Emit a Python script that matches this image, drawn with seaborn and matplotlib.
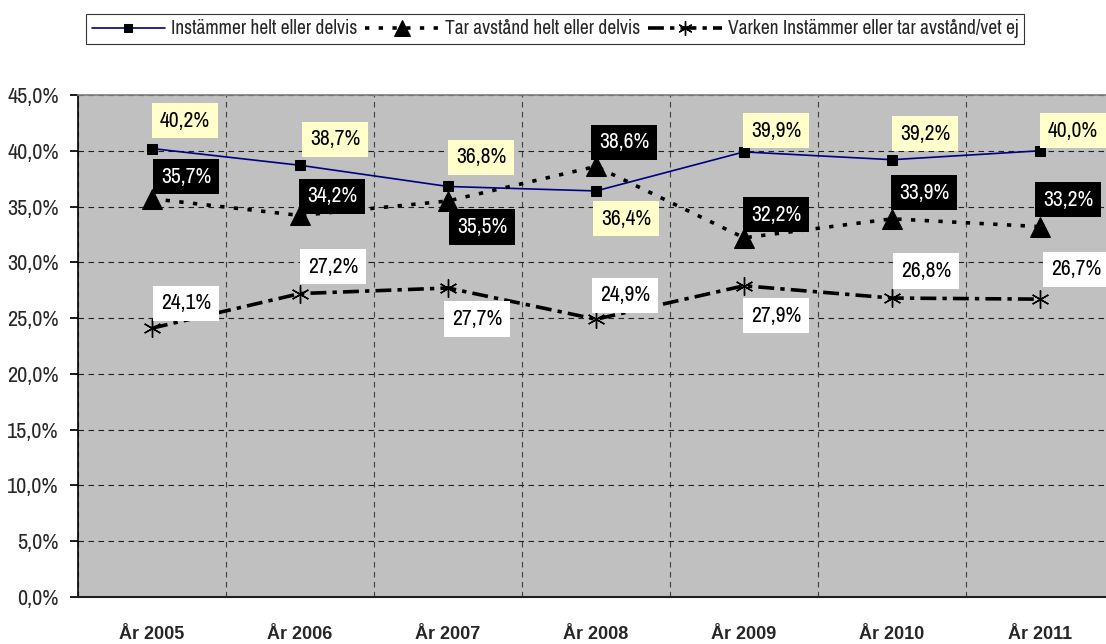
import matplotlib
matplotlib.use("Agg")
import matplotlib.pyplot as plt
from matplotlib import font_manager
from matplotlib.ticker import FuncFormatter, MultipleLocator, FixedLocator
import seaborn as sns
import pandas as pd

years = ["År 2005", "År 2006", "År 2007", "År 2008", "År 2009", "År 2010", "År 2011"]
instammer = [40.2, 38.7, 36.8, 36.4, 39.9, 39.2, 40.0]
tar_avstand = [35.7, 34.2, 35.5, 38.6, 32.2, 33.9, 33.2]
varken = [24.1, 27.2, 27.7, 24.9, 27.9, 26.8, 26.7]
series_names = ["Instämmer helt eller delvis", "Tar avstånd helt eller delvis",
                "Varken Instämmer eller tar avstånd/vet ej"]

sns.set_theme(style="white")
avail = {f.name for f in font_manager.fontManager.ttflist}
narrow = "Liberation Sans"
for cand in ["Liberation Sans Narrow", "Arial Narrow", "Archivo Narrow", "PT Sans Narrow",
             "Roboto Condensed", "IBM Plex Sans Condensed"]:
    if cand in avail:
        narrow = cand
        break
plt.rcParams["font.family"] = [narrow, "DejaVu Sans"]

fig = plt.figure(figsize=(11.06, 6.44), dpi=100)
ax = fig.add_axes([78 / 1106, 1 - 597 / 644, 1036 / 1106, (597 - 95) / 644])
ax.set_facecolor("#C0C0C0")

x = list(range(len(years)))
df = pd.DataFrame({"x": x, "a": instammer, "b": tar_avstand, "c": varken})

sns.lineplot(data=df, x="x", y="a", ax=ax, color="#000080", lw=1.2,
             marker="s", markersize=7, markerfacecolor="black", markeredgecolor="black",
             label=series_names[0], zorder=5)
sns.lineplot(data=df, x="x", y="b", ax=ax, color="black", lw=2.6, dashes=(1.2, 2.6),
             marker="^", markersize=14, markerfacecolor="black", markeredgecolor="black",
             label=series_names[1], zorder=5)
sns.lineplot(data=df, x="x", y="c", ax=ax, color="black", lw=2.6, dashes=(4.4, 1.7, 1.2, 1.7),
             marker=(6, 2, 0), markersize=13, markeredgewidth=1.0,
             markerfacecolor="black", markeredgecolor="black",
             label=series_names[2], zorder=5)

ax.set_xlim(-0.5, 6.5)
ax.set_ylim(0, 45)
ax.yaxis.set_major_locator(MultipleLocator(5))
ax.yaxis.set_major_formatter(FuncFormatter(lambda v, p: f"{v:.1f}%".replace(".", ",")))
ax.set_xticks(x)
ax.set_xticklabels(years, fontweight="bold", fontsize=13, family=["Liberation Sans", "DejaVu Sans"])
ax.xaxis.set_minor_locator(FixedLocator([i - 0.5 for i in range(len(years) + 1)]))
ax.tick_params(axis="x", which="major", length=0, pad=21)
ax.tick_params(axis="x", which="minor", length=7, color="#404040", direction="out", width=1)
ax.tick_params(axis="y", which="major", length=6, color="black", direction="out",
               labelsize=16, pad=8, left=True)
ax.set_xlabel("")
ax.set_ylabel("")

ax.grid(axis="y", which="major", color="#202020", linestyle=(0, (5, 4)), lw=0.8)
ax.grid(axis="x", which="minor", color="#404040", linestyle=(0, (5, 4)), lw=0.8)
ax.grid(axis="x", which="major", visible=False)

ax.spines["left"].set_color("black")
ax.spines["left"].set_linewidth(1.2)
ax.spines["bottom"].set_color("#202020")
ax.spines["bottom"].set_linewidth(1.5)
ax.spines["top"].set_color("#808080")
ax.spines["right"].set_visible(False)

fmt = lambda v: f"{v:.1f}%".replace(".", ",")

off_a = [(33, 28), (35, 26), (33, 29), (30, -28), (32, 21), (33, 26), (33, 20)]
off_b = [(34, 22), (32, 19), (34, -26), (28, 24), (32, 23), (32, 26), (28, 27)]
off_c = [(34, 25), (33, 27), (29, -31), (29, 24), (32, -30), (34, 27), (36, 30)]

lab_kw = dict(textcoords="offset pixels", ha="center", va="center", fontsize=15.5, zorder=6)
for xi, v, o in zip(x, instammer, off_a):
    ax.annotate(fmt(v), (xi, v), xytext=o, color="black",
                bbox=dict(boxstyle="square,pad=0.35", fc="#FFFFCC", ec="none"), **lab_kw)
for xi, v, o in zip(x, tar_avstand, off_b):
    ax.annotate(fmt(v), (xi, v), xytext=o, color="white",
                bbox=dict(boxstyle="square,pad=0.35", fc="black", ec="none"), **lab_kw)
for xi, v, o in zip(x, varken, off_c):
    ax.annotate(fmt(v), (xi, v), xytext=o, color="black",
                bbox=dict(boxstyle="square,pad=0.35", fc="white", ec="none"), **lab_kw)

handles, labels = ax.get_legend_handles_labels()
ax.legend_.remove()
leg = fig.legend(handles, labels, loc="center", bbox_to_anchor=(555 / 1106, 1 - 29 / 644),
                 ncol=3, frameon=True, fancybox=False, edgecolor="black", fontsize=14,
                 handlelength=3.8, handletextpad=0.3, columnspacing=0.4, borderpad=0.3,
                 markerscale=0.8)
leg.get_frame().set_linewidth(0.8)

fig.savefig("out.png", dpi=100)
